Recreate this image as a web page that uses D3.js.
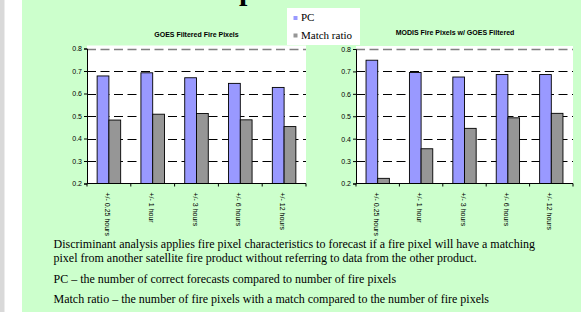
<!DOCTYPE html>
<html>
<head>
<meta charset="utf-8">
<script src="https://cdn.jsdelivr.net/npm/d3@7"></script>
<style>
  body { margin: 0; padding: 0; background: #fff; }
  svg { display: block; }
  .tick-label { font-family: "Liberation Sans", Arial, sans-serif; font-size: 7px; fill: #000; }
  .chart-title { font-family: "Liberation Sans", Arial, sans-serif; font-size: 7px; font-weight: bold; fill: #000; }
  .serif { font-family: "Liberation Serif", "Times New Roman", serif; fill: #000; }
</style>
</head>
<body>
<svg id="chart" width="581" height="312"></svg>
<script>
// categories and values
const categories = ["+/- 0.25 hours", "+/- 1 hour", "+/- 3 hours", "+/- 6 hours", "+/- 12 hours"];
const goesPC = [0.678, 0.692, 0.670, 0.645, 0.627];
const goesMatch = [0.482, 0.508, 0.511, 0.483, 0.453];
const modisPC = [0.750, 0.695, 0.675, 0.686, 0.686];
const modisMatch = [0.223, 0.355, 0.446, 0.493, 0.513];
const yTicks = [0.2, 0.3, 0.4, 0.5, 0.6, 0.7, 0.8];
const seriesNames = ["PC", "Match ratio"];
const seriesColors = ["#9999ff", "#969696"];

const notes = [
    "Discriminant analysis applies fire pixel characteristics to forecast if a fire pixel will have a matching",
    "pixel from another satellite fire product without referring to data from the other product.",
    "PC \u2013 the number of correct forecasts compared to number of fire pixels",
    "Match ratio \u2013 the number of fire pixels with a match compared to the number of fire pixels"
];

const svg = d3.select('#chart');

// slide background
svg.append('rect').attr('x', 0).attr('y', 0).attr('width', 581).attr('height', 312).attr('fill', '#ffffff');
svg.append('rect').attr('x', 0).attr('y', 0).attr('width', 4.5).attr('height', 312).attr('fill', '#d9d9d9');
svg.append('rect').attr('x', 22).attr('y', 0).attr('width', 559).attr('height', 312).attr('fill', '#ccffcc');

// slide title, almost all of it above the top edge
svg.append('text')
    .attr('class', 'serif')
    .attr('x', 182).attr('y', -0.5)
    .attr('textLength', 286)
    .style('font-size', '30px')
    .style('font-weight', 'bold')
    .text('Fire pixel match results');

function drawChart(opts) {
    const g = svg.append('g');
    const y = d3.scaleLinear().domain([0.2, 0.8]).range([opts.bottom, opts.top]);
    const x0 = d3.scaleBand().domain(categories).range([opts.left, opts.right]);
    const x1 = d3.scaleBand().domain(seriesNames).range([0, x0.bandwidth()]).paddingOuter(0.86);

    // plot area
    g.append('rect')
        .attr('x', opts.left).attr('y', opts.top - 3)
        .attr('width', opts.right - opts.left).attr('height', opts.bottom - opts.top + 3)
        .attr('fill', '#ffffff');

    // dashed gridlines
    g.selectAll('.grid').data(yTicks.slice(1))
        .enter().append('line')
        .attr('class', 'grid')
        .attr('x1', opts.left).attr('x2', opts.right)
        .attr('y1', d => Math.round(y(d)) + 0.5).attr('y2', d => Math.round(y(d)) + 0.5)
        .attr('stroke', d => d === 0.8 ? '#808080' : '#000')
        .attr('stroke-width', d => d === 0.8 ? 1.6 : 1)
        .attr('stroke-dasharray', '9,4.5');

    // bars
    const series = [opts.pc, opts.match];
    series.forEach((vals, si) => {
        g.selectAll('.bar-' + si).data(vals)
            .enter().append('rect')
            .attr('class', 'bar-' + si)
            .attr('x', (d, i) => x0(categories[i]) + x1(seriesNames[si]))
            .attr('y', d => y(d))
            .attr('width', x1.bandwidth())
            .attr('height', d => y(0.2) - y(d))
            .attr('fill', seriesColors[si])
            .attr('stroke', '#000')
            .attr('stroke-width', 0.9);
    });

    // y axis
    const yAxis = d3.axisLeft(y).tickValues(yTicks).tickSize(3).tickFormat(d3.format('.1f'));
    const ya = g.append('g').attr('transform', `translate(${opts.left},0)`).call(yAxis);
    ya.select('.domain').attr('stroke', '#000');
    ya.selectAll('.tick text').attr('class', 'tick-label').attr('x', -5).attr('dy', '0.35em');

    // x axis, ticks between categories
    g.append('line')
        .attr('x1', opts.left).attr('x2', opts.right)
        .attr('y1', opts.bottom).attr('y2', opts.bottom)
        .attr('stroke', '#000');
    g.selectAll('.xtick').data(d3.range(categories.length + 1))
        .enter().append('line')
        .attr('x1', i => opts.left + i * x0.step()).attr('x2', i => opts.left + i * x0.step())
        .attr('y1', opts.bottom).attr('y2', opts.bottom + 3)
        .attr('stroke', '#000');

    g.selectAll('.xlabel').data(categories)
        .enter().append('text')
        .attr('class', 'tick-label')
        .attr('transform', d => `translate(${x0(d) + x0.bandwidth() / 2},${opts.bottom + 9}) rotate(90)`)
        .attr('dy', '0.55em')
        .text(d => d);

    g.append('text')
        .attr('class', 'chart-title')
        .attr('x', opts.titleX).attr('y', opts.titleY)
        .attr('text-anchor', 'middle')
        .text(opts.title);
}

drawChart({ left: 87, right: 306, top: 48.5, bottom: 183.5, pc: goesPC, match: goesMatch,
    title: 'GOES Filtered Fire Pixels', titleX: 196.5, titleY: 37 });
drawChart({ left: 356, right: 573, top: 49, bottom: 183.5, pc: modisPC, match: modisMatch,
    title: 'MODIS Fire Pixels w/ GOES Filtered', titleX: 455, titleY: 34.5 });

// legend
const legend = svg.append('g');
legend.append('rect').attr('x', 287).attr('y', 8).attr('width', 73).attr('height', 37).attr('fill', '#ffffff');
seriesNames.forEach((name, i) => {
    legend.append('rect')
        .attr('x', 293.5).attr('y', 16 + i * 17.5)
        .attr('width', 4).attr('height', 4)
        .attr('fill', seriesColors[i]);
    legend.append('text')
        .attr('class', 'serif')
        .attr('x', 301).attr('y', 21 + i * 17.5)
        .style('font-size', '11px')
        .text(name);
});

// notes below the charts
const noteY = [247.5, 261.5, 282.5, 303];
svg.selectAll('.note').data(notes)
    .enter().append('text')
    .attr('class', 'serif note')
    .attr('x', 53.5)
    .attr('y', (d, i) => noteY[i])
    .style('font-size', '12px')
    .text(d => d);
</script>
</body>
</html>
